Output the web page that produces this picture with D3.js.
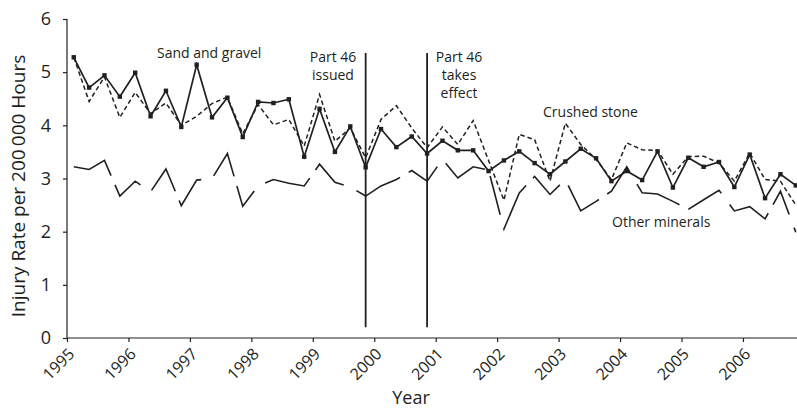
<!DOCTYPE html>
<html><head><meta charset="utf-8">
<script src="https://cdn.jsdelivr.net/npm/d3@7"></script>
<style>
body{margin:0;background:#fff;}
text{font-family:"Open Sans",sans-serif;fill:#231f20;}
</style></head>
<body><svg id="c" width="797" height="408"></svg>
<script>
const years = [1995,1996,1997,1998,1999,2000,2001,2002,2003,2004,2005,2006];
const quarters = ["Q1","Q2","Q3","Q4"];
const yTicks = [0,1,2,3,4,5,6];
const sandGravel = [5.28,4.71,4.94,4.54,4.99,4.17,4.65,3.97,5.14,4.15,4.52,3.78,
  4.44,4.42,4.49,3.41,4.31,3.50,3.98,3.21,3.93,3.59,3.79,3.47,
  3.71,3.53,3.53,3.14,3.34,3.51,3.29,3.08,3.32,3.56,3.38,2.95,
  3.14,2.97,3.51,2.83,3.39,3.22,3.31,2.84,3.45,2.63,3.08,2.87];
const crushedStone = [5.28,4.45,4.91,4.15,4.62,4.22,4.42,4.00,4.17,4.41,4.53,3.84,
  4.39,4.01,4.11,3.61,4.58,3.70,3.95,3.39,4.11,4.37,3.95,3.58,
  3.97,3.64,4.09,3.34,2.59,3.83,3.73,2.95,4.04,3.64,3.36,2.98,
  3.67,3.54,3.53,3.08,3.41,3.42,3.29,2.95,3.48,2.98,2.95,2.50];
const otherMinerals = [3.22,3.17,3.34,2.67,2.95,2.75,3.18,2.49,2.97,3.00,3.47,2.48,
  2.86,2.98,2.91,2.86,3.27,2.93,2.84,2.67,2.86,2.98,3.15,2.95,
  3.36,3.01,3.22,3.16,2.05,2.73,3.04,2.70,2.98,2.39,2.57,2.76,
  3.22,2.73,2.71,2.57,2.42,2.60,2.78,2.39,2.47,2.24,2.76,1.99];
const events = [{label:["Part 46","issued"], at:"1999 Q4"},{label:["Part 46","takes","effect"], at:"2000 Q4"}];

const categories = [];
years.forEach(y => quarters.forEach((q,k) => categories.push({name:y+" "+q, t:y + k/4 + 0.11})));

const svg = d3.select("#c");
const ink = "#231f20";
const x = d3.scaleLinear().domain([1995,2007]).range([67,804.4]);
const y = d3.scaleLinear().domain([0,6]).range([338,19]);

// axes
const gx = svg.append("g").attr("transform","translate(0,338)")
  .call(d3.axisBottom(x).tickValues(years).tickSize(4).tickFormat(d3.format("d")));
gx.select(".domain").attr("d","M67,0H797");
gx.selectAll("line").attr("stroke",ink).attr("stroke-width",1.2);
gx.select(".domain").attr("stroke",ink).attr("stroke-width",1.2);
gx.selectAll("text").attr("font-size",16).attr("text-anchor","end")
  .attr("dy",0).attr("y",0)
  .attr("transform","translate(8,17) rotate(-45)").style("fill",ink);

const gy = svg.append("g").attr("transform","translate(67,0)")
  .call(d3.axisLeft(y).tickValues(yTicks).tickSize(4).tickFormat(d3.format("d")));
gy.select(".domain").attr("d","M0,19V338").attr("stroke",ink).attr("stroke-width",1.2);
gy.selectAll("line").attr("stroke",ink).attr("stroke-width",1.2);
gy.selectAll("text").attr("font-size",18).attr("x",-16).style("fill",ink);

// axis titles
svg.append("text").attr("x",411).attr("y",404).attr("text-anchor","middle")
  .attr("font-size",18).text("Year");
svg.append("text").attr("transform","translate(25,186) rotate(-90)").attr("text-anchor","middle")
  .attr("font-size",19).text("Injury Rate per 200\u2009000 Hours");

// event lines
events.forEach(e => {
  const c = categories.find(d => d.name === e.at);
  svg.append("line").attr("x1",x(c.t)).attr("x2",x(c.t)).attr("y1",y(5.36)).attr("y2",y(0.2))
    .attr("stroke",ink).attr("stroke-width",1.8);
});

const line = d3.line().x((d,i) => x(categories[i].t)).y(d => y(d));
svg.append("path").datum(otherMinerals).attr("d",line).attr("fill","none")
  .attr("stroke",ink).attr("stroke-width",1.6).attr("stroke-dasharray","50,10,40,14");
svg.append("path").datum(crushedStone).attr("d",line).attr("fill","none")
  .attr("stroke",ink).attr("stroke-width",1.5).attr("stroke-dasharray","4.5,3");
svg.append("path").datum(sandGravel).attr("d",line).attr("fill","none")
  .attr("stroke",ink).attr("stroke-width",1.7);
svg.selectAll("rect.m").data(sandGravel).enter().append("rect").attr("class","m")
  .attr("x",(d,i) => x(categories[i].t)-2.2).attr("y",d => y(d)-2.2)
  .attr("width",4.4).attr("height",4.4).attr("fill",ink);

// annotations
const ann = (txt, xx, yy, anchor) => svg.append("text").attr("x",xx).attr("y",yy)
  .attr("text-anchor",anchor||"start").attr("font-size",14).text(txt);
ann("Sand and gravel",157,58);
ann("Crushed stone",543,117);
ann("Other minerals",612,227);
events[0].label.forEach((t,i) => ann(t,333,62+i*18,"middle"));
events[1].label.forEach((t,i) => ann(t,459,62+i*18,"middle"));
</script></body></html>
